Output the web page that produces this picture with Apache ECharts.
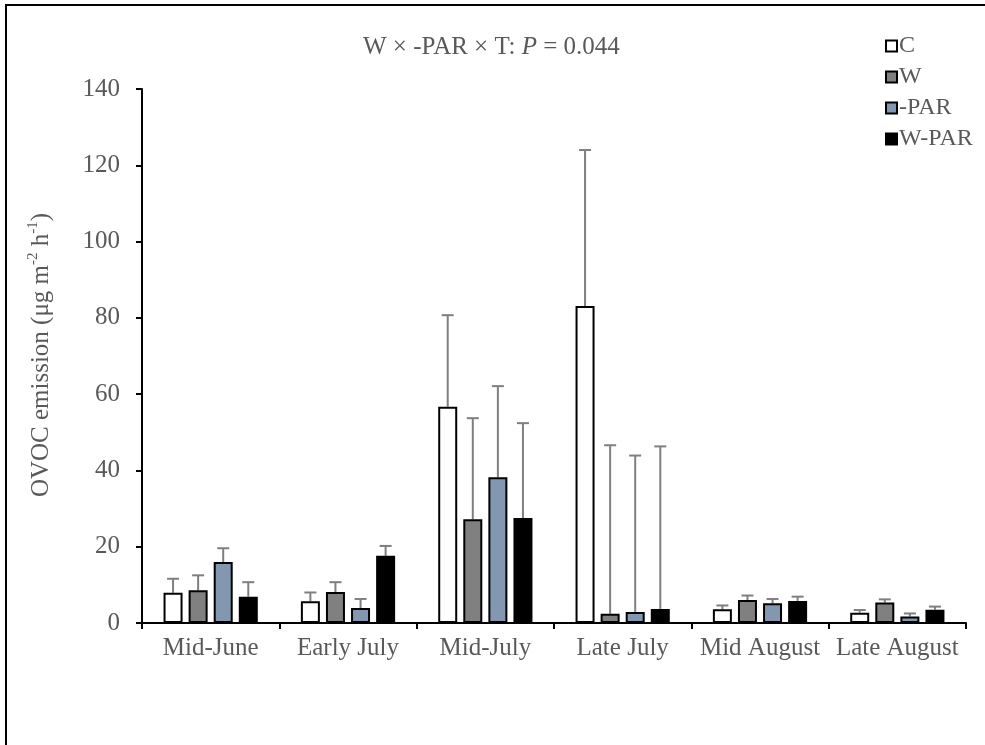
<!DOCTYPE html>
<html>
<head>
<meta charset="utf-8">
<script src="https://cdn.jsdelivr.net/npm/echarts@6/dist/echarts.min.js"></script>
<style>
  html, body { margin: 0; padding: 0; background: #fff; }
  #chart { width: 985px; height: 745px; }
</style>
</head>
<body>
<div id="chart"></div>
<script>
// Sampling periods
const periods = ['Mid-June', 'Early July', 'Mid-July', 'Late July', 'Mid August', 'Late August'];

// Treatment names
const treatments = ['C', 'W', '-PAR', 'W-PAR'];

// Mean OVOC emission (µg m-2 h-1) per treatment
const meanC    = [7.9, 5.7, 56.7, 83.1, 3.6, 2.7];
const meanW    = [8.6, 8.1, 27.2, 2.4, 6.0, 5.4];
const meanPAR  = [16.0, 3.9, 38.2, 2.9, 5.2, 1.7];
const meanWPAR = [6.9, 17.6, 27.5, 3.7, 5.8, 3.5];

// Upper error (standard error) per treatment
const errC    = [3.7, 2.3, 24.0, 40.9, 1.0, 0.7];
const errW    = [3.9, 2.6, 26.5, 44.2, 1.2, 0.8];
const errPAR  = [3.6, 2.4, 23.9, 41.0, 1.1, 0.8];
const errWPAR = [3.8, 2.6, 24.9, 42.6, 1.1, 0.8];

// Y axis ticks
const yMin = 0, yMax = 140, yStep = 20;

const means = [meanC, meanW, meanPAR, meanWPAR];
const errs = [errC, errW, errPAR, errWPAR];
const fills = ['#ffffff', '#808080', '#8497b0', '#000000'];

const FONT = '"Liberation Serif", "Times New Roman", serif';
const TXT = '#595959';
const BAR_W = 19;
const BAR_GAP = 0.32;
const STEP = BAR_W * (1 + BAR_GAP);

const barSeries = treatments.map((name, k) => ({
  type: 'bar',
  name: name,
  data: means[k],
  barWidth: BAR_W,
  barGap: (BAR_GAP * 100) + '%',
  itemStyle: { color: fills[k], borderColor: '#000', borderWidth: 2 },
  z: 3
}));

// Upper error whiskers, offset to sit on each bar of the group
const errSeries = treatments.map((name, k) => ({
  type: 'custom',
  data: means[k].map((m, i) => [i, m, m + errs[k][i]]),
  encode: { x: 0, y: [1, 2] },
  z: 2,
  silent: true,
  renderItem: function (params, api) {
    const base = api.coord([api.value(0), 0]);
    const x = base[0] + (k - 1.5) * STEP;
    const y0 = api.coord([api.value(0), api.value(1)])[1];
    const y1 = api.coord([api.value(0), api.value(2)])[1];
    const st = { stroke: '#7f7f7f', lineWidth: 2 };
    return {
      type: 'group',
      children: [
        { type: 'line', shape: { x1: x, y1: y0, x2: x, y2: y1 }, style: st },
        { type: 'line', shape: { x1: x - 6, y1: y1, x2: x + 6, y2: y1 }, style: st }
      ]
    };
  }
}));

const chart = echarts.init(document.getElementById('chart'), null, { renderer: 'canvas' });
chart.setOption({
  animation: false,
  backgroundColor: '#fff',
  textStyle: { fontFamily: FONT, color: TXT },
  grid: { left: 142, right: 19, top: 89, bottom: 122, containLabel: false },
  legend: {
    data: treatments,
    orient: 'vertical',
    left: 880,
    top: 29,
    itemWidth: 11,
    itemHeight: 11,
    itemGap: 7,
    icon: 'rect',
    textStyle: { fontFamily: FONT, fontSize: 24, color: TXT, padding: [0, 0, 0, -3] }
  },
  xAxis: {
    type: 'category',
    data: periods,
    axisLine: { lineStyle: { color: '#000', width: 2 } },
    axisTick: { show: true, length: 6, lineStyle: { color: '#000', width: 2 } },
    axisLabel: { fontFamily: FONT, fontSize: 25, color: TXT, margin: 13, interval: 0 }
  },
  yAxis: {
    type: 'value',
    min: yMin,
    max: yMax,
    interval: yStep,
    splitLine: { show: false },
    axisLine: { show: true, lineStyle: { color: '#000', width: 2 } },
    axisTick: { show: true, length: 6, lineStyle: { color: '#000', width: 2 } },
    axisLabel: { fontFamily: FONT, fontSize: 25, color: TXT, margin: 22 }
  },
  graphic: [
    {
      type: 'rect',
      shape: { x: 6, y: 5, width: 1100, height: 900 },
      style: { fill: 'none', stroke: '#000', lineWidth: 2 },
      silent: true
    },
    {
      type: 'text',
      x: 363,
      y: 47,
      style: {
        text: '{n|W × -PAR × T: }{i|P}{n| = 0.044}',
        align: 'left',
        verticalAlign: 'middle',
        rich: {
          n: { fontFamily: FONT, fontSize: 25, fill: TXT },
          i: { fontFamily: FONT, fontSize: 25, fontStyle: 'italic', fill: TXT }
        }
      }
    },
    {
      type: 'text',
      x: 40,
      y: 355,
      rotation: Math.PI / 2,
      style: {
        text: '{n|OVOC emission (μg m}{s|-2}{n| h}{s|-1}{n|)}',
        align: 'center',
        verticalAlign: 'middle',
        rich: {
          n: { fontFamily: FONT, fontSize: 25, fill: TXT, lineHeight: 28, verticalAlign: 'bottom' },
          s: { fontFamily: FONT, fontSize: 15, fill: TXT, lineHeight: 28, verticalAlign: 'top', padding: [0, 0, 12, 0] }
        }
      }
    }
  ],
  series: barSeries.concat(errSeries)
});
</script>
</body>
</html>
